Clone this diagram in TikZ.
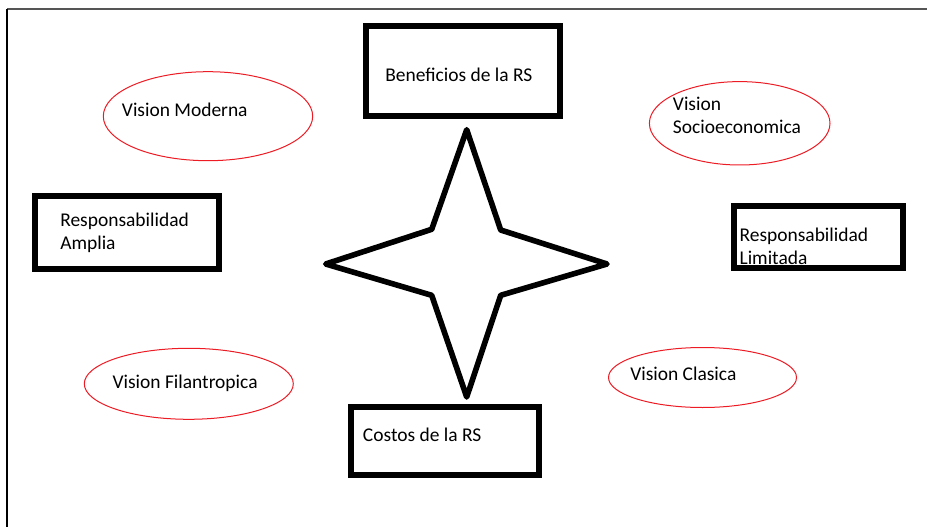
\documentclass[tikz,border=0pt]{standalone}
\usepackage{fontspec}
\setmainfont{Carlito}

\begin{document}
\begin{tikzpicture}[x=0.75pt,y=0.75pt,yscale=-1,xscale=1,
		lbl/.style={anchor=base west,inner sep=0pt,align=left,font=\fontsize{14.6}{17.6}\selectfont},
		caja/.style={line width=4.5},
		ovalo/.style={color={rgb, 255:red, 237; green, 28; blue, 36 },line width=0.75}]
		\useasboundingbox (0,0) rectangle (927,527);
		\draw  [color={rgb, 255:red, 85; green, 85; blue, 85 },line width=1.3]  (7,9) -- (927,9) ;
		\draw  [line width=1.3]  (7,9) -- (7,527) ;
		\draw  [caja]  (365.7,26.3) rectangle (560.3,116) ;
		\draw  [caja]  (34.7,196.3) rectangle (218.7,269.3) ;
		\draw  [caja]  (351.3,407.3) rectangle (538.7,475.3) ;
		\draw  [caja]  (733.7,205.7) rectangle (903,267.7) ;
		\draw  [ovalo]  (208,116.2) ellipse (104.7 and 44.5) ;
		\draw  [ovalo]  (739.7,123.3) ellipse (90.3 and 41.7) ;
		\draw  [ovalo]  (188.8,383.8) ellipse (104.5 and 35.5) ;
		\draw  [ovalo]  (702.5,377.5) ellipse (94 and 30) ;
		\draw  [line width=4.2,line join=round]  (466.7,129.7) -- (500.7,230) -- (607,264) -- (500.7,295.3) -- (466.7,397) -- (431.7,295.3) -- (325.7,264) -- (431.7,229.3) -- cycle ;
		\draw (385,82) node [lbl]  (benef)  {Beneficios de la RS};
		\draw (60,249.7) node [lbl]  (ampl)  {Responsabilidad\\Amplia};
		\draw (362.7,441.7) node [lbl]  (costos)  {Costos de la RS};
		\draw (739.3,264.7) node [lbl]  (limit)  {Responsabilidad\\Limitada};
		\draw (121.7,116.7) node [lbl]  (moderna)  {Vision Moderna};
		\draw (672.7,133.7) node [lbl]  (socio)  {Vision\\Socioeconomica};
		\draw (112.3,388) node [lbl]  (filan)  {Vision Filantropica};
		\draw (630,380) node [lbl]  (clasica)  {Vision Clasica};
\end{tikzpicture}
\end{document}
